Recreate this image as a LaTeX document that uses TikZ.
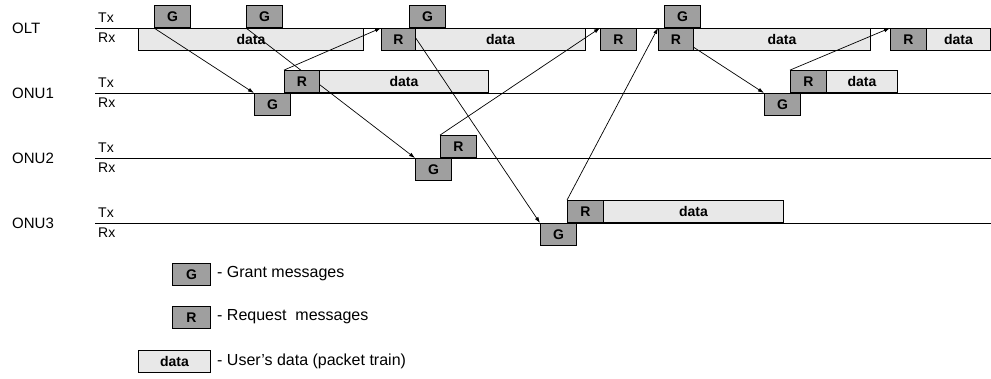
\documentclass[tikz,border=0pt]{standalone}
\usepackage{fontspec}
\setmainfont{Liberation Sans}
\usetikzlibrary{arrows.meta}
\pgfdeclarelayer{front}
\pgfsetlayers{main,front}
\begin{document}
\begin{tikzpicture}[x=1pt,y=-1pt,
  sigtx/.style={draw=black, line width=0.9pt, fill=gray!75, inner sep=0pt, minimum width=36pt, minimum height=22pt, anchor=south west, font=\bfseries\fontsize{14}{14}\selectfont},
  sigrx/.style={sigtx, anchor=north west},
  dattx/.style={draw=black, line width=0.8pt, fill=gray!18, inner sep=0pt, minimum height=22pt, anchor=south west, font=\bfseries\fontsize{14}{14}\selectfont},
  datrx/.style={dattx, anchor=north west},
  axisline/.style={line width=0.9pt},
  msg/.style={line width=0.7pt, -{Latex[length=6pt,width=4pt]}},
  lbl/.style={font=\fontsize{15}{15}\selectfont, anchor=west, inner sep=0pt},
  trx/.style={font=\fontsize{14}{14}\selectfont, anchor=west, inner sep=0pt},
  leg/.style={font=\fontsize{16}{16}\selectfont, anchor=west, inner sep=0pt},
]
\fill[white] (0,0) rectangle (991,378);
\useasboundingbox (0,0) rectangle (991,378);

% axes
\foreach \yy in {28,93,158,223} \draw[axisline] (95,\yy) -- (991,\yy);

% labels
\node[lbl] (lolt) at (12,28) {OLT};
\node[lbl] (lonu1) at (12,93) {ONU1};
\node[lbl] (lonu2) at (12,158) {ONU2};
\node[lbl] (lonu3) at (12,223) {ONU3};
\foreach \yy/\nm in {28/a,93/b,158/c,223/d} {
  \node[trx] (tx\nm) at (98,\yy-10) {Tx};
  \node[trx] (rx\nm) at (98,\yy+10) {Rx};
}

% data boxes
\node[datrx, minimum width=225pt] (d1) at (138,28) {data};
\node[datrx, minimum width=170pt] (d2) at (415,28) {data};
\node[datrx, minimum width=177pt] (d3) at (693,28) {data};
\node[datrx, minimum width=64pt]  (d4) at (926,28) {data};
\node[dattx, minimum width=169pt] (d5) at (319,93) {data};
\node[dattx, minimum width=71pt]  (d6) at (826,93) {data};
\node[dattx, minimum width=180pt] (d8) at (603,223) {data};

% grant / request boxes (in front of the message lines)
\begin{pgfonlayer}{front}
\node[sigtx] (og1) at (154,28) {G};
\node[sigtx] (og2) at (246,28) {G};
\node[sigtx] (og3) at (409,28) {G};
\node[sigtx] (og4) at (664,28) {G};
\node[sigrx, minimum width=34pt] (r1) at (381,28) {R};
\node[sigrx] (r2) at (600,28) {R};
\node[sigrx, minimum width=35pt] (r3) at (658,28) {R};
\node[sigrx] (r4) at (890,28) {R};
\node[sigtx, minimum width=35pt] (r5) at (284,93) {R};
\node[sigtx] (r6) at (790,93) {R};
\node[sigrx] (g5) at (254,93) {G};
\node[sigrx] (g6) at (764,93) {G};
\node[sigtx] (r7) at (440,158) {R};
\node[sigrx] (g7) at (415,158) {G};
\node[sigtx] (r8) at (567,223) {R};
\node[sigrx] (g8) at (540,223) {G};
\end{pgfonlayer}

% arrows
\draw[msg] (og1.south west) -- (g5.north west);
\draw[msg] (og2.south west) -- (g7.north west);
\draw[msg] (r5.north west) -- (r1.north west);
\draw[msg] (og3.south west) -- (g8.north west);
\draw[msg] (r7.north west) -- (r2.north west);
\draw[msg] (r8.north west) -- (r3.north west);
\draw[msg] (og4.south west) -- (g6.north west);
\draw[msg] (r6.north west) -- (r4.north west);

% legend
\node[sigrx, minimum width=38pt] (lg) at (172,263) {G};
\node[leg] (lgt) at (217,274) {- Grant messages};
\node[sigrx, minimum width=38pt] (lr) at (172,306) {R};
\node[leg] (lrt) at (217,317) {- Request\ \ messages};
\node[datrx, minimum width=72pt] (ld) at (138,350) {data};
\node[leg] (ldt) at (217,361) {- User's data (packet train)};
\end{tikzpicture}
\end{document}
